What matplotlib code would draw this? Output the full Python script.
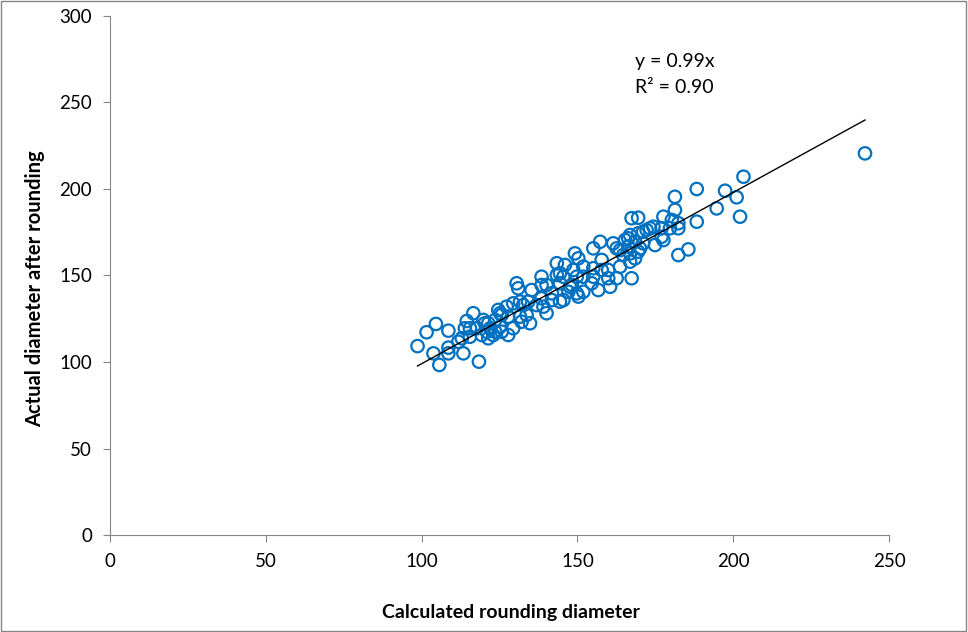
import matplotlib
matplotlib.use("Agg")
import matplotlib.pyplot as plt
from matplotlib.patches import Rectangle

calc = [98.7, 101.6, 104.6, 108.6, 103.8, 105.7, 108.6, 108.6, 111.8, 113.4,
        118.4, 114.5, 116.6, 113.9, 115.5, 112.9, 115.5, 117.7, 119.3, 120.3,
        121.4, 122.0, 123.6, 124.6, 125.2, 125.7,
        143.4, 146.0, 148.7, 149.8, 130.5, 131.0, 135.3, 138.5, 138.5, 140.1,
        141.8, 144.4, 144.4, 147.6, 149.8, 134.2, 136.9, 139.1, 144.4, 129.4,
        131.6, 127.3, 125.2, 123.6, 121.4, 119.8, 127.8, 131.6, 133.7, 134.8,
        132.1, 129.4, 125.7, 123.0, 120.9, 127.8, 140.1, 138.5, 141.8,
        172.2, 169.5, 166.9, 165.3, 171.1, 161.5, 162.6, 157.3, 155.1, 149.2,
        150.3, 157.8, 164.7, 166.9, 168.5, 166.9, 163.7, 151.9, 155.1, 157.8,
        151.9, 155.1, 159.9, 162.6, 167.4, 154.6, 148.2, 156.7, 160.5, 151.9,
        147.1, 150.3, 145.5, 143.4, 145.5,
        181.3, 181.3, 177.6, 180.3, 182.4, 188.3, 194.7, 167.4, 169.5, 174.4,
        173.3, 171.1, 177.0, 182.4, 179.7, 177.0, 174.9, 177.6, 166.3, 168.5,
        166.3, 170.1, 163.7, 182.4, 185.6,
        203.3, 197.4, 201.1, 202.2, 188.3, 242.3, 169.5, 159.9, 132.6]
actual = [109.2, 117.2, 122.0, 118.1, 105.0, 98.3, 108.3, 105.0, 111.7, 105.0,
          100.2, 123.7, 128.2, 119.5, 119.5, 113.7, 114.6, 119.5, 115.6, 122.4,
          113.7, 119.5, 117.5, 130.1, 120.4, 127.2,
          157.1, 156.1, 153.2, 149.3, 145.5, 142.6, 141.6, 149.3, 144.5, 144.5,
          139.7, 151.3, 145.5, 143.5, 139.7, 134.9, 132.9, 132.0, 134.9, 133.9,
          134.9, 132.0, 128.2, 124.3, 122.4, 124.3, 126.2, 126.2, 127.2, 122.4,
          123.3, 119.5, 117.5, 115.6, 117.5, 115.6, 128.2, 136.8, 135.8,
          176.3, 174.4, 173.4, 170.5, 168.6, 168.6, 165.7, 169.5, 165.7, 162.8,
          159.9, 159.0, 161.8, 162.8, 159.9, 158.0, 155.1, 155.1, 154.2, 153.2,
          149.3, 149.3, 148.4, 148.4, 148.4, 145.5, 144.5, 141.6, 143.5, 140.6,
          140.6, 137.8, 135.8, 150.3, 149.3,
          195.5, 187.9, 184.0, 182.1, 180.2, 181.1, 188.8, 183.1, 183.4, 178.2,
          177.3, 175.3, 177.3, 177.3, 177.3, 172.4, 167.6, 170.5, 171.5, 169.5,
          166.7, 165.7, 164.7, 161.8, 165.1,
          207.1, 199.0, 195.2, 184.0, 200.0, 220.6, 163.8, 153.2, 132.9]

slope = 0.99
r2 = 0.90
x_ticks = [0, 50, 100, 150, 200, 250]
y_ticks = [0, 50, 100, 150, 200, 250, 300]

plt.rcParams['font.family'] = ['Lato', 'DejaVu Sans']

fig = plt.figure(figsize=(9.68, 6.32), dpi=100)
ax = fig.add_axes([110/968, 97/632, 779/968, 519/632])

ax.scatter(calc, actual, s=80, facecolors='none', edgecolors='#0070C0',
           linewidths=1.6, zorder=3)
xmin, xmax = min(calc), max(calc)
ax.plot([xmin, xmax], [slope * xmin, slope * xmax], color='black', lw=1, zorder=4)

ax.text(168.5, 273.5, f"y = {slope:.2f}x", fontsize=14, va='center', ha='left')
ax.text(168.5, 258.5, f"R² = {r2:.2f}", fontsize=14, va='center', ha='left')

ax.set_xlim(0, 250)
ax.set_ylim(0, 300)
ax.set_xticks(x_ticks)
ax.set_yticks(y_ticks)
ax.tick_params(axis='both', direction='out', length=5, color='#868686',
               labelsize=13.5, pad=8)
for s in ['top', 'right']:
    ax.spines[s].set_visible(False)
for s in ['left', 'bottom']:
    ax.spines[s].set_color('#868686')

ax.set_xlabel("Calculated rounding diameter", fontsize=14, fontweight='bold',
              va='center')
ax.set_ylabel("Actual diameter after rounding", fontsize=14.5, fontweight='bold',
              va='center')
ax.xaxis.set_label_coords(0.515, -0.150)
ax.yaxis.set_label_coords(-0.0963, 0.474)

fig.patches.append(Rectangle((0.001, 0.002), 0.997, 0.996, transform=fig.transFigure,
                             fill=False, edgecolor='#868686', lw=1))

fig.savefig("out.png", dpi=100)
